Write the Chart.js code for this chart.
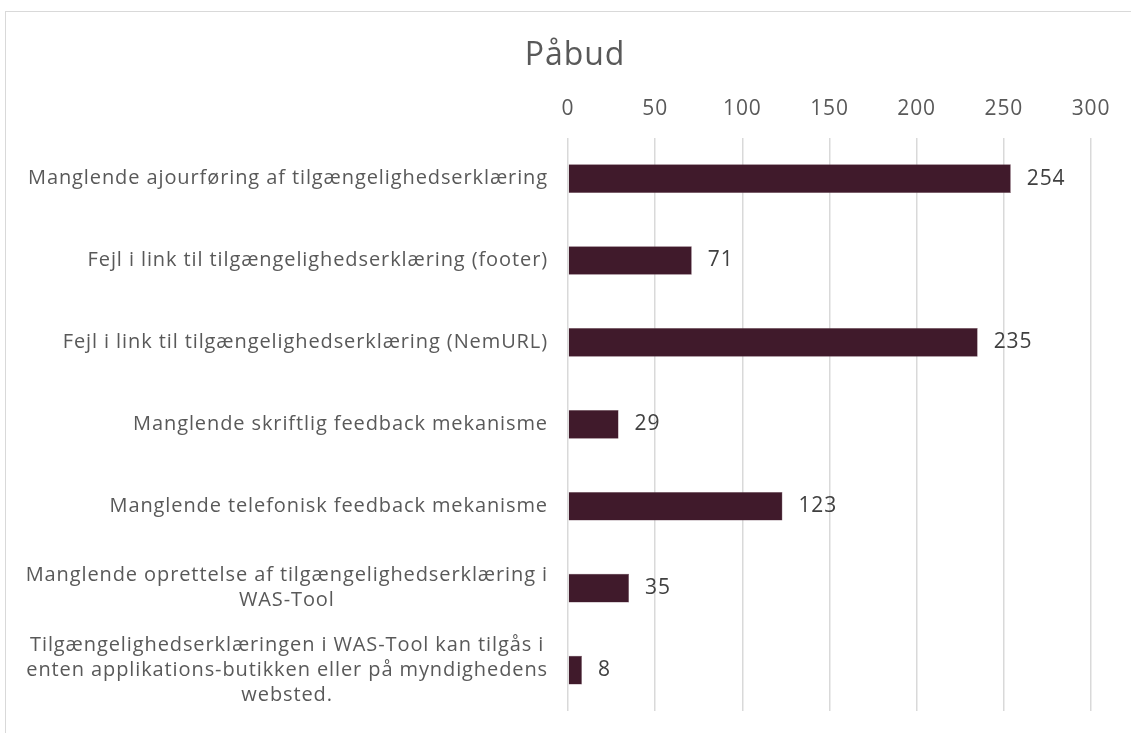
<!DOCTYPE html>
<html>
<head>
<meta charset="utf-8">
<script src="https://cdn.jsdelivr.net/npm/chart.js@4"></script>
<style>
  html, body { margin: 0; padding: 0; background: #fff; overflow: hidden; }
  #box {
    position: absolute; left: 5px; top: 11px;
    width: 1138px; height: 740px;
    border: 1px solid #d9d9d9; background: #fff;
  }
  #box canvas { display: block; }
</style>
</head>
<body>
<div id="box"><canvas id="myChart" width="1138" height="740"></canvas></div>
<script>
let title = "Påbud";
let categories = [
  ["Manglende ajourføring af tilgængelighedserklæring"],
  ["Fejl i link til tilgængelighedserklæring (footer)"],
  ["Fejl i link til tilgængelighedserklæring (NemURL)"],
  ["Manglende skriftlig feedback mekanisme"],
  ["Manglende telefonisk feedback mekanisme"],
  ["Manglende oprettelse af tilgængelighedserklæring i", "WAS-Tool"],
  ["Tilgængelighedserklæringen i WAS-Tool kan tilgås i", "enten applikations-butikken eller på myndighedens", "websted."],
];
let values = [254, 71, 235, 29, 123, 35, 8];
let xTicks = [0, 50, 100, 150, 200, 250, 300];

let font = "'Open Sans', 'Liberation Sans', sans-serif";
let textColor = "#595959";
let spacing = "0.9px";

// wider letter spacing, closer to the original font
let spacingPlugin = {
  id: "spacing",
  beforeUpdate: (chart) => { chart.ctx.letterSpacing = spacing; },
  beforeDraw: (chart) => { chart.ctx.letterSpacing = spacing; },
};

// y labels: block right aligned, lines centered to each other (like Excel)
let labelPlugin = {
  id: "catLabels",
  afterDraw: (chart) => {
    let ctx = chart.ctx;
    let y = chart.scales.y;
    let right = chart.chartArea.left - 20;
    let lh = 25;
    ctx.save();
    ctx.letterSpacing = spacing;
    ctx.font = "20px " + font;
    ctx.fillStyle = textColor;
    ctx.textBaseline = "middle";
    ctx.textAlign = "center";
    for (let i = 0; i < categories.length; i++) {
      let lines = categories[i];
      let w = 0;
      lines.forEach((l) => (w = Math.max(w, ctx.measureText(l).width)));
      let cx = right - w / 2;
      let cy = y.getPixelForTick(i);
      let y0 = cy - ((lines.length - 1) * lh) / 2;
      for (let j = 0; j < lines.length; j++) {
        ctx.fillText(lines[j], cx, y0 + j * lh);
      }
    }
    ctx.restore();
  },
};

// value labels right of each bar
let valuePlugin = {
  id: "valueLabels",
  afterDatasetsDraw: (chart) => {
    let ctx = chart.ctx;
    let meta = chart.getDatasetMeta(0);
    ctx.save();
    ctx.letterSpacing = spacing;
    ctx.font = "21px " + font;
    ctx.fillStyle = "#404040";
    ctx.textBaseline = "middle";
    ctx.textAlign = "left";
    meta.data.forEach((bar, i) => {
      ctx.fillText(values[i], bar.x + 16, bar.y);
    });
    ctx.restore();
  },
};

let ctx = document.getElementById("myChart");
let chart = new Chart(ctx, {
  type: "bar",
  data: {
    labels: categories.map((c) => c.join(" ")),
    datasets: [
      {
        data: values,
        backgroundColor: "#401a2b",
        borderColor: "#6e4d5b",
        borderWidth: 0.5,
        barPercentage: 0.35,
        categoryPercentage: 1,
      },
    ],
  },
  options: {
    indexAxis: "y",
    responsive: false,
    animation: false,
    layout: { padding: { left: 53, right: 53, top: 0, bottom: 41 } },
    plugins: {
      legend: { display: false },
      tooltip: { enabled: false },
      title: {
        display: true,
        text: title,
        color: textColor,
        font: { family: font, size: 32, weight: "normal" },
        padding: { top: 25, bottom: 5 },
      },
    },
    scales: {
      x: {
        position: "top",
        min: 0,
        max: 300,
        afterBuildTicks: (axis) => {
          axis.ticks = xTicks.map((v) => ({ value: v }));
        },
        grid: { color: "#d9d9d9", lineWidth: 1.5, drawTicks: false },
        border: { display: false },
        ticks: {
          color: textColor,
          font: { family: font, size: 21 },
          padding: 16,
        },
      },
      y: {
        afterFit: (axis) => {
          axis.width = 509;
        },
        grid: { display: false },
        border: { display: false },
        ticks: { display: false },
      },
    },
  },
  plugins: [spacingPlugin, labelPlugin, valuePlugin],
});
</script>
</body>
</html>
